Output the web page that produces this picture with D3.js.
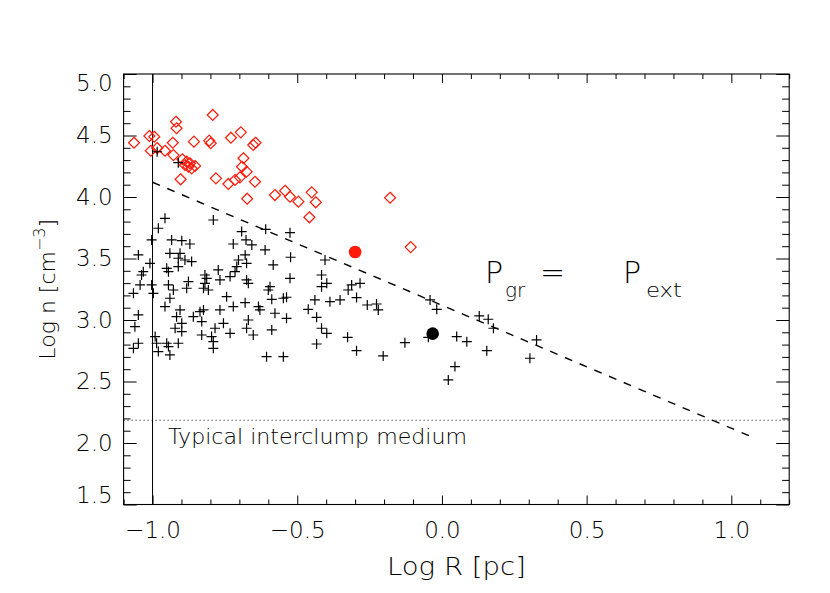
<!DOCTYPE html>
<html><head><meta charset="utf-8">
<script src="https://cdn.jsdelivr.net/npm/d3@7"></script>
<style>
body{margin:0;background:#fff}
svg{display:block}
text{font-family:"DejaVu Sans",sans-serif;font-weight:200;fill:#000}
</style>
</head><body>
<svg id="c" width="830" height="593"></svg>
<script>
// ---- data ----
const xDomain = [-1.1, 1.2];
const yDomain = [1.5, 5.0];
const xMajor = [-1.0, -0.5, 0.0, 0.5, 1.0];
const xMinor = [-1.1,-0.9,-0.8,-0.7,-0.6,-0.4,-0.3,-0.2,-0.1,0.1,0.2,0.3,0.4,0.6,0.7,0.8,0.9,1.1,1.2];
const yMajor = [1.5, 2.0, 2.5, 3.0, 3.5, 4.0, 4.5, 5.0];
const yMinor = [1.6,1.7,1.8,1.9,2.1,2.2,2.3,2.4,2.6,2.7,2.8,2.9,3.1,3.2,3.3,3.4,3.6,3.7,3.8,3.9,4.1,4.2,4.3,4.4,4.6,4.7,4.8,4.9];

// red diamonds [log R, log n]
const diamonds = [
[-1.064,4.441],[-0.792,4.667],[-0.919,4.612],[-0.917,4.559],[-1.011,4.496],[-0.994,4.490],
[-1.006,4.376],[-0.984,4.398],[-0.957,4.376],[-0.930,4.441],[-0.928,4.341],[-0.897,4.307],
[-0.882,4.287],[-0.871,4.274],[-0.888,4.260],[-0.876,4.246],[-0.865,4.233],[-0.853,4.252],
[-0.903,4.144],[-0.857,4.450],[-0.804,4.458],[-0.799,4.437],[-0.729,4.482],[-0.695,4.526],
[-0.652,4.423],[-0.644,4.441],[-0.686,4.315],[-0.691,4.246],[-0.675,4.206],[-0.698,4.160],
[-0.715,4.138],[-0.738,4.106],[-0.646,4.124],[-0.781,4.152],[-0.673,3.986],[-0.577,4.016],
[-0.542,4.051],[-0.525,4.002],[-0.496,3.962],[-0.450,4.038],[-0.436,3.957],[-0.458,3.835],
[-0.179,3.994],[-0.108,3.593]
];

// black crosses [log R, log n]
const crosses = [
[-0.957,3.827],[-0.790,3.813],[-0.980,3.746],[-1.003,3.651],[-0.934,3.651],[-0.899,3.645],
[-0.871,3.618],[-0.721,3.618],[-0.692,3.719],[-0.677,3.651],[-0.657,3.610],[-0.611,3.570],
[-0.609,3.737],[-0.525,3.710],[-0.523,3.510],[-1.049,3.529],[-1.009,3.461],[-1.032,3.393],
[-1.038,3.366],[-0.940,3.542],[-0.905,3.542],[-0.911,3.502],[-0.888,3.488],[-0.865,3.475],
[-0.951,3.420],[-0.945,3.393],[-0.911,3.434],[-0.819,3.366],[-0.813,3.339],[-0.819,3.298],
[-0.773,3.407],[-0.767,3.326],[-0.732,3.353],[-0.715,3.393],[-0.709,3.434],[-0.703,3.488],
[-0.675,3.461],[-0.680,3.529],[-0.583,3.448],[-0.525,3.339],[-0.675,3.326],[-0.669,3.298],
[-1.043,3.285],[-1.003,3.285],[-0.997,3.217],[-0.945,3.285],[-0.928,3.244],[-0.876,3.312],
[-0.882,3.258],[-0.824,3.258],[-0.807,3.244],[-0.940,3.177],[-0.744,3.190],[-0.721,3.109],
[-0.680,3.141],[-0.634,3.109],[-0.629,3.082],[-0.600,3.244],[-0.594,3.271],[-0.588,3.168],
[-0.577,3.055],[-0.548,3.177],[-0.537,3.185],[-1.066,3.217],[-1.049,3.041],[-0.957,3.109],
[-0.905,3.082],[-0.917,3.027],[-0.899,2.973],[-0.922,2.933],[-0.859,3.027],[-0.836,3.068],
[-0.824,3.082],[-0.830,2.987],[-0.784,2.933],[-0.767,3.082],[-0.755,2.973],[-0.732,2.892],
[-0.669,3.000],[-0.675,2.933],[-0.652,2.878],[-0.588,2.919],[-0.537,3.014],[-1.061,2.946],
[-1.066,2.770],[-1.049,2.811],[-0.991,2.865],[-0.986,2.811],[-0.980,2.743],[-0.951,2.811],
[-0.945,2.784],[-0.911,2.811],[-0.940,2.716],[-0.830,2.878],[-0.796,2.865],[-0.790,2.824],
[-0.790,2.770],[-0.606,2.702],[-0.548,2.702],[-0.899,2.906],
[-0.404,3.488],[-0.416,3.366],[-0.398,3.298],[-0.416,3.271],[-0.312,3.285],[-0.283,3.298],
[-0.324,3.244],[-0.295,3.182],[-0.439,3.163],[-0.387,3.149],[-0.352,3.163],[-0.462,3.087],
[-0.258,3.122],[-0.226,3.130],[-0.220,3.082],[-0.433,3.022],[-0.416,2.933],[-0.398,2.892],
[-0.433,2.805],[-0.326,2.859],[-0.295,2.751],[-0.203,2.708],[-0.128,2.816],[-0.041,3.163],
[-0.018,3.087],[-0.047,2.859],[0.051,2.865],
[0.129,3.033],[0.160,3.006],[0.178,2.933],[0.327,2.838],[0.304,2.689],[0.155,2.751],
[0.086,2.824],[0.045,2.621],[0.022,2.513],
[-0.984,4.368],[-0.911,4.279]
];

const redDot = [[-0.300, 3.553]];
const blackDot = [[-0.032, 2.889]];
const equilibriumLine = [[-1.0, 4.12], [1.08, 2.04]];
const interclumpLogN = 2.185;
const verticalLogR = -1.0;

// ---- drawing ----
const svg = d3.select("#c");
const L = 123.6, R = 789.2, T = 74, B = 504.5;
const x = d3.scaleLinear().domain(xDomain).range([L, R]);
const y = d3.scaleLinear().domain(yDomain).range([B, T]);
const fmt = d => (d < 0 ? "\u2212" : "") + Math.abs(d).toFixed(1);

function styleAxis(g){
  g.select(".domain").remove();
  g.selectAll("line").attr("stroke","#000").attr("stroke-width",1);
  g.selectAll("text").attr("font-size",23).attr("font-family","DejaVu Sans").attr("font-weight",200).attr("fill","#000");
}

// bottom
svg.append("g").attr("transform",`translate(0,${B})`)
  .call(d3.axisBottom(x).tickValues(xMajor).tickSize(-9).tickPadding(17).tickFormat(fmt)).call(styleAxis);
svg.append("g").attr("transform",`translate(0,${B})`)
  .call(d3.axisBottom(x).tickValues(xMinor).tickSize(-5).tickFormat("")).call(styleAxis);
// top
svg.append("g").attr("transform",`translate(0,${T})`)
  .call(d3.axisTop(x).tickValues(xMajor).tickSize(-9).tickFormat("")).call(styleAxis);
svg.append("g").attr("transform",`translate(0,${T})`)
  .call(d3.axisTop(x).tickValues(xMinor).tickSize(-5).tickFormat("")).call(styleAxis);
// left
const gl = svg.append("g").attr("transform",`translate(${L},0)`)
  .call(d3.axisLeft(y).tickValues(yMajor).tickSize(-13).tickPadding(11).tickFormat(fmt)).call(styleAxis);
gl.selectAll(".tick text").attr("dy", d => d === 5.0 ? "0.73em" : d === 1.5 ? "-0.09em" : "0.32em");
svg.append("g").attr("transform",`translate(${L},0)`)
  .call(d3.axisLeft(y).tickValues(yMinor).tickSize(-7).tickFormat("")).call(styleAxis);
// right
svg.append("g").attr("transform",`translate(${R},0)`)
  .call(d3.axisRight(y).tickValues(yMajor).tickSize(-13).tickFormat("")).call(styleAxis);
svg.append("g").attr("transform",`translate(${R},0)`)
  .call(d3.axisRight(y).tickValues(yMinor).tickSize(-7).tickFormat("")).call(styleAxis);

// frame
svg.append("rect").attr("x",L).attr("y",T).attr("width",R-L).attr("height",B-T)
  .attr("fill","none").attr("stroke","#000").attr("stroke-width",1.1);

// vertical line at log R = -1
svg.append("line").attr("x1",x(verticalLogR)).attr("x2",x(verticalLogR)).attr("y1",T).attr("y2",B)
  .attr("stroke","#000").attr("stroke-width",1);

// interclump dotted line
svg.append("line").attr("x1",L).attr("x2",R).attr("y1",y(interclumpLogN)).attr("y2",y(interclumpLogN))
  .attr("stroke","#000").attr("stroke-width",1).attr("stroke-dasharray","1,3");

// P_gr = P_ext dashed line
svg.append("path").datum(equilibriumLine)
  .attr("d", d3.line().x(d=>x(d[0])).y(d=>y(d[1])))
  .attr("fill","none").attr("stroke","#000").attr("stroke-width",1.4).attr("stroke-dasharray","8,8");

// diamonds
svg.append("g").selectAll("path").data(diamonds).join("path")
  .attr("transform", d=>`translate(${x(d[0])},${y(d[1])})`)
  .attr("d","M0,-5.5L5.5,0L0,5.5L-5.5,0Z")
  .attr("fill","none").attr("stroke","#ff1a0a").attr("stroke-width",1.2);

// crosses
svg.append("g").selectAll("path").data(crosses).join("path")
  .attr("transform", d=>`translate(${x(d[0])},${y(d[1])})`)
  .attr("d","M-5,0H5M0,-5V5")
  .attr("fill","none").attr("stroke","#000").attr("stroke-width",1.2);

// filled dots
svg.append("g").selectAll("circle").data(redDot).join("circle")
  .attr("cx",d=>x(d[0])).attr("cy",d=>y(d[1])).attr("r",6.3).attr("fill","#ff1a0a");
svg.append("g").selectAll("circle").data(blackDot).join("circle")
  .attr("cx",d=>x(d[0])).attr("cy",d=>y(d[1])).attr("r",6.3).attr("fill","#000");

// texts
svg.append("text").attr("x",168).attr("y",444).attr("font-size",21)
  .attr("textLength",299).attr("lengthAdjust","spacingAndGlyphs")
  .text("Typical interclump medium");

const p = svg.append("text").attr("font-size",30);
p.append("tspan").attr("x",485).attr("y",283).text("P");
p.append("tspan").attr("x",505).attr("y",297).attr("font-size",20).text("gr");
p.append("tspan").attr("x",540).attr("y",283).text("=");
p.append("tspan").attr("x",623).attr("y",283).text("P");
p.append("tspan").attr("x",646).attr("y",297).attr("font-size",20)
  .attr("textLength",36).attr("lengthAdjust","spacingAndGlyphs").text("ext");

// axis titles
svg.append("text").attr("x",(L+R)/2).attr("y",575).attr("text-anchor","middle").attr("font-size",24)
  .attr("textLength",139).attr("lengthAdjust","spacingAndGlyphs")
  .text("Log R [pc]");
const yt = svg.append("text").attr("transform",`translate(55,${(T+B)/2}) rotate(-90)`)
  .attr("text-anchor","middle").attr("font-size",22);
yt.append("tspan").text("Log n [cm");
yt.append("tspan").attr("dy",-10).attr("font-size",16).text("\u22123");
yt.append("tspan").attr("dy",10).text("]");
</script>
</body></html>
